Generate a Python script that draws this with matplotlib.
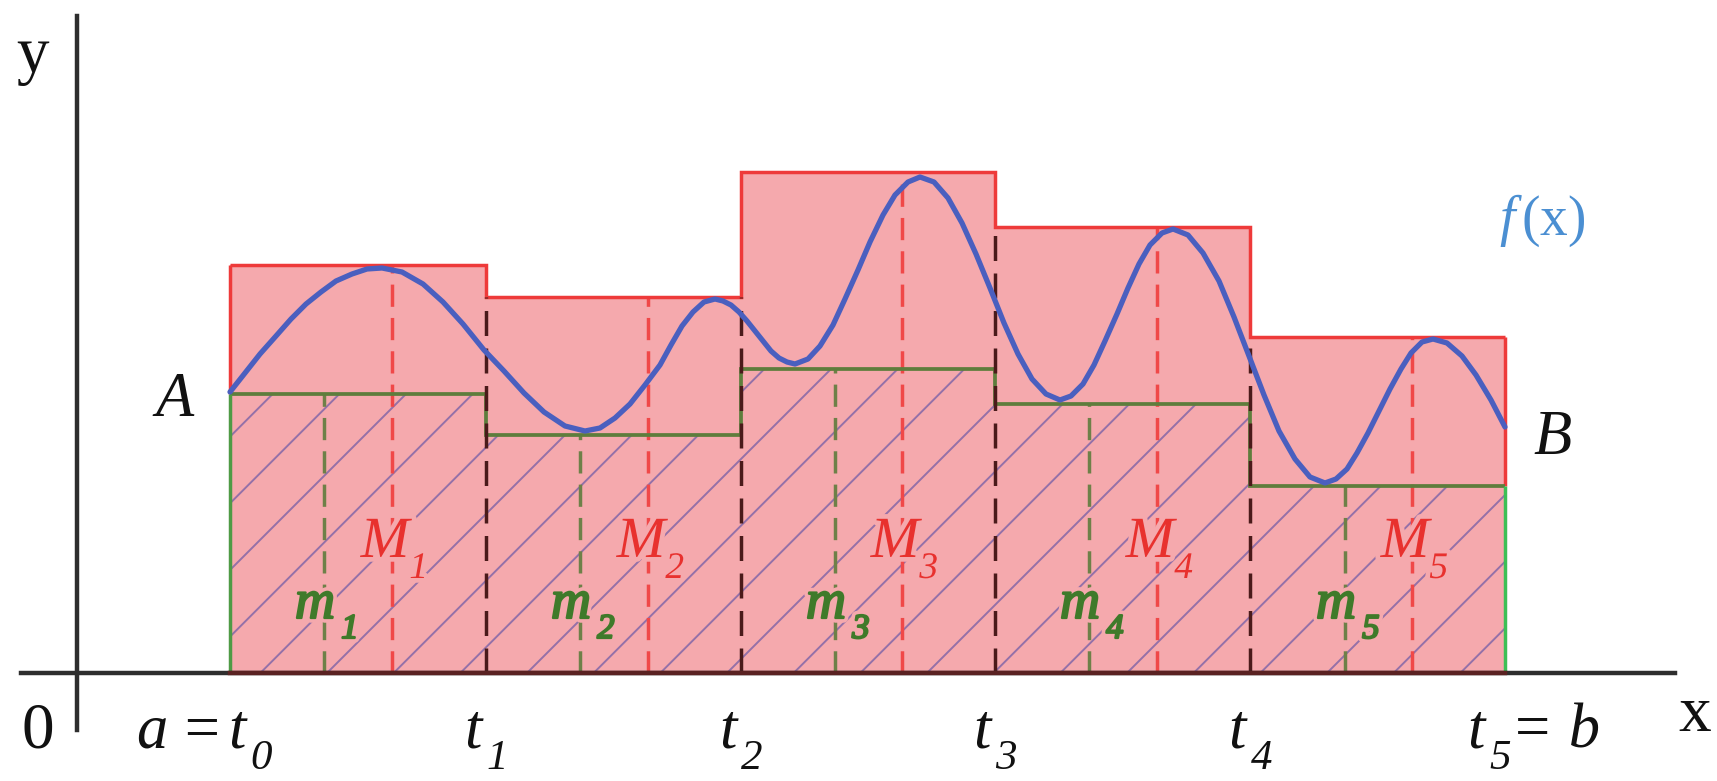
import numpy as np
import matplotlib.pyplot as plt
import matplotlib.patheffects as pe

plt.rcParams['font.family'] = ['Liberation Serif', 'DejaVu Serif']
plt.rcParams['mathtext.fontset'] = 'custom'
plt.rcParams['mathtext.it'] = 'Liberation Serif:italic'
plt.rcParams['mathtext.rm'] = 'Liberation Serif'
plt.rcParams['lines.scale_dashes'] = False
plt.rcParams['hatch.linewidth'] = 0.7

# 分点与上下确界（单位：图上像素，原点在坐标轴交点）
t = [153, 409, 664, 918, 1173, 1428]
M = [408, 376, 501, 446, 336]
m = [279, 238, 304, 269, 187]
M_x = [315, 571, 825, 1080, 1335]
m_x = [247, 503, 758, 1012, 1268]
subs = ['1', '2', '3', '4', '5']
t_subs = ['0', '1', '2', '3', '4', '5']

# f(x) 曲线上读取的点
curve_x = [153, 168, 183, 199, 214, 229, 244, 259, 275, 290,
           305, 325, 346, 366, 386, 407, 427, 447, 467, 488,
           508, 523, 538, 553, 568, 583, 594, 605, 616, 627,
           638, 646, 654, 662, 670, 678, 686, 694, 702, 710,
           718, 731, 743, 756, 768, 781, 793, 806, 818, 831,
           843, 857, 871, 885, 899, 913, 927, 941, 955, 969,
           983, 994, 1006, 1017, 1028, 1040, 1051, 1062, 1073, 1085,
           1096, 1111, 1126, 1142, 1157, 1172, 1187, 1202, 1218, 1233,
           1248, 1259, 1270, 1280, 1291, 1302, 1313, 1324, 1334, 1345,
           1356, 1370, 1385, 1399, 1414, 1428]
curve_y = [281, 300, 319, 337, 354, 369, 381, 392, 399, 404,
           405, 401, 389, 371, 349, 323, 302, 280, 261, 247,
           242, 245, 255, 269, 288, 308, 328, 347, 361, 371,
           374, 372, 368, 361, 352, 342, 332, 322, 315, 311,
           309, 314, 327, 348, 374, 403, 431, 458, 478, 491,
           496, 491, 475, 450, 419, 385, 350, 319, 294, 279,
           273, 277, 289, 308, 332, 359, 385, 409, 428, 440,
           444, 438, 420, 392, 356, 317, 278, 242, 214, 196,
           190, 194, 204, 220, 240, 262, 284, 304, 320, 331,
           334, 330, 317, 298, 273, 246]

pink = '#f5a9ad'
red = '#ee3a3a'
green = '#5e7d3c'
ink = '#111111'

fig = plt.figure(figsize=(1717 / 200, 781 / 200), dpi=200)
ax = fig.add_axes([0, 0, 1, 1])
ax.set_xlim(-77, 1640)
ax.set_ylim(-108, 673)
ax.axis('off')

# 坐标轴
ax.plot([-56, 1598], [0, 0], color='#2e2e2e', lw=1.6, zorder=7)
ax.plot([0, 0], [-57, 657], color='#2e2e2e', lw=1.6, zorder=7)
ax.plot([t[0], t[-1]], [0, 0], color='#5a2222', lw=1.6, zorder=8)

# 上和矩形（粉色）与下和阴影
ax.stairs(M, t, baseline=0, fill=True, facecolor=pink, edgecolor='none', zorder=1)
ax.stairs(m, t, baseline=0, fill=True, facecolor='none', edgecolor='#9470a8',
          linewidth=0, hatch='/', zorder=2)

# 竖直虚线
ax.vlines(M_x, 0, M, colors='#f04848', lw=1.25, linestyles=(0, (8, 4)), zorder=3)
ax.vlines(m_x, 0, m, colors='#6e8048', lw=1.25, linestyles=(0, (8, 4)), zorder=3)
ax.vlines(t[1:-1], 0, np.minimum(M[:-1], M[1:]), colors='#4a1a1a', lw=1.25,
          linestyles=(0, (9, 4.5)), zorder=5)

# 上下阶梯轮廓
ax.stairs(M, t, baseline=None, color=red, lw=1.25, zorder=4)
ax.vlines([t[0], t[-1]], [m[0], m[-1]], [M[0], M[-1]], colors=red, lw=1.25, zorder=4)
ax.stairs(m, t, baseline=None, color=green, lw=1.35, zorder=4)
ax.vlines(t[0], 0, m[0], colors='#4f9a45', lw=1.25, zorder=4)
ax.vlines(t[-1], 0, m[-1], colors='#3dbf55', lw=1.25, zorder=4)

# 曲线
ax.plot(curve_x, curve_y, color='#4a5fbf', lw=1.9, solid_joinstyle='round',
        solid_capstyle='round', zorder=6)

halo = [pe.withStroke(linewidth=3.4, foreground=pink)]
halo_bold = [pe.withStroke(linewidth=3.4, foreground=pink),
             pe.withStroke(linewidth=0.8, foreground='#3f7a2a')]


def sub_label(x, y, main, sub, sub_y, dx, size, sub_size, color, **kw):
    txt = ax.text(x, y, main, ha='center', va='baseline', fontsize=size,
                  color=color, style='italic', zorder=9, **kw)
    ax.annotate(sub, xy=(1, sub_y), xycoords=(txt, 'data'), xytext=(dx, 0),
                textcoords='offset points', ha='left', va='baseline',
                fontsize=sub_size, color=color, style='italic', zorder=9, **kw)
    return txt


for i in range(5):
    sub_label(M_x[i] - 7, 116, 'M', subs[i], 95, 0, 21, 13.5, '#e8312e',
              path_effects=halo)
    sub_label(m_x[i] - 9, 55, 'm', subs[i], 35, 2.2, 20, 12.5, '#3f7a2a',
              path_effects=halo_bold)

# 分点标签
t_texts = []
for i in range(6):
    dx = 7 if i == 0 else (-29 if i == 5 else -13)
    t_texts.append(sub_label(t[i] + dx, -74, 't', t_subs[i], -96, 1.7, 22.5, 15.5, ink))
ax.annotate('a\u2009=', xy=(0, -74), xycoords=(t_texts[0], 'data'), xytext=(-2, 0),
            textcoords='offset points', ha='right', va='baseline', fontsize=22.5,
            style='italic', color=ink)
ax.annotate('= b', xy=(1, -74), xycoords=(t_texts[5], 'data'), xytext=(9.5, 0),
            textcoords='offset points', ha='left', va='baseline', fontsize=22.5,
            style='italic', color=ink)

ax.text(-56, -74, '0', ha='left', va='baseline', fontsize=23.5, color=ink)
ax.text(1618, -58, 'x', ha='center', va='baseline', fontsize=23.5, color=ink)
ax.text(-45, 601, 'y', ha='center', va='baseline', fontsize=23.5, color=ink)
ax.text(97, 257, 'A', ha='center', va='baseline', fontsize=22.5, style='italic', color=ink)
ax.text(1475, 219, 'B', ha='center', va='baseline', fontsize=22.5, style='italic', color=ink)
ax.text(1465, 438, r'$\mathit{f}\,\mathrm{(x)}$', ha='center', va='baseline',
        fontsize=20, color='#4b8fd2')

fig.savefig('out.png', dpi=200)
